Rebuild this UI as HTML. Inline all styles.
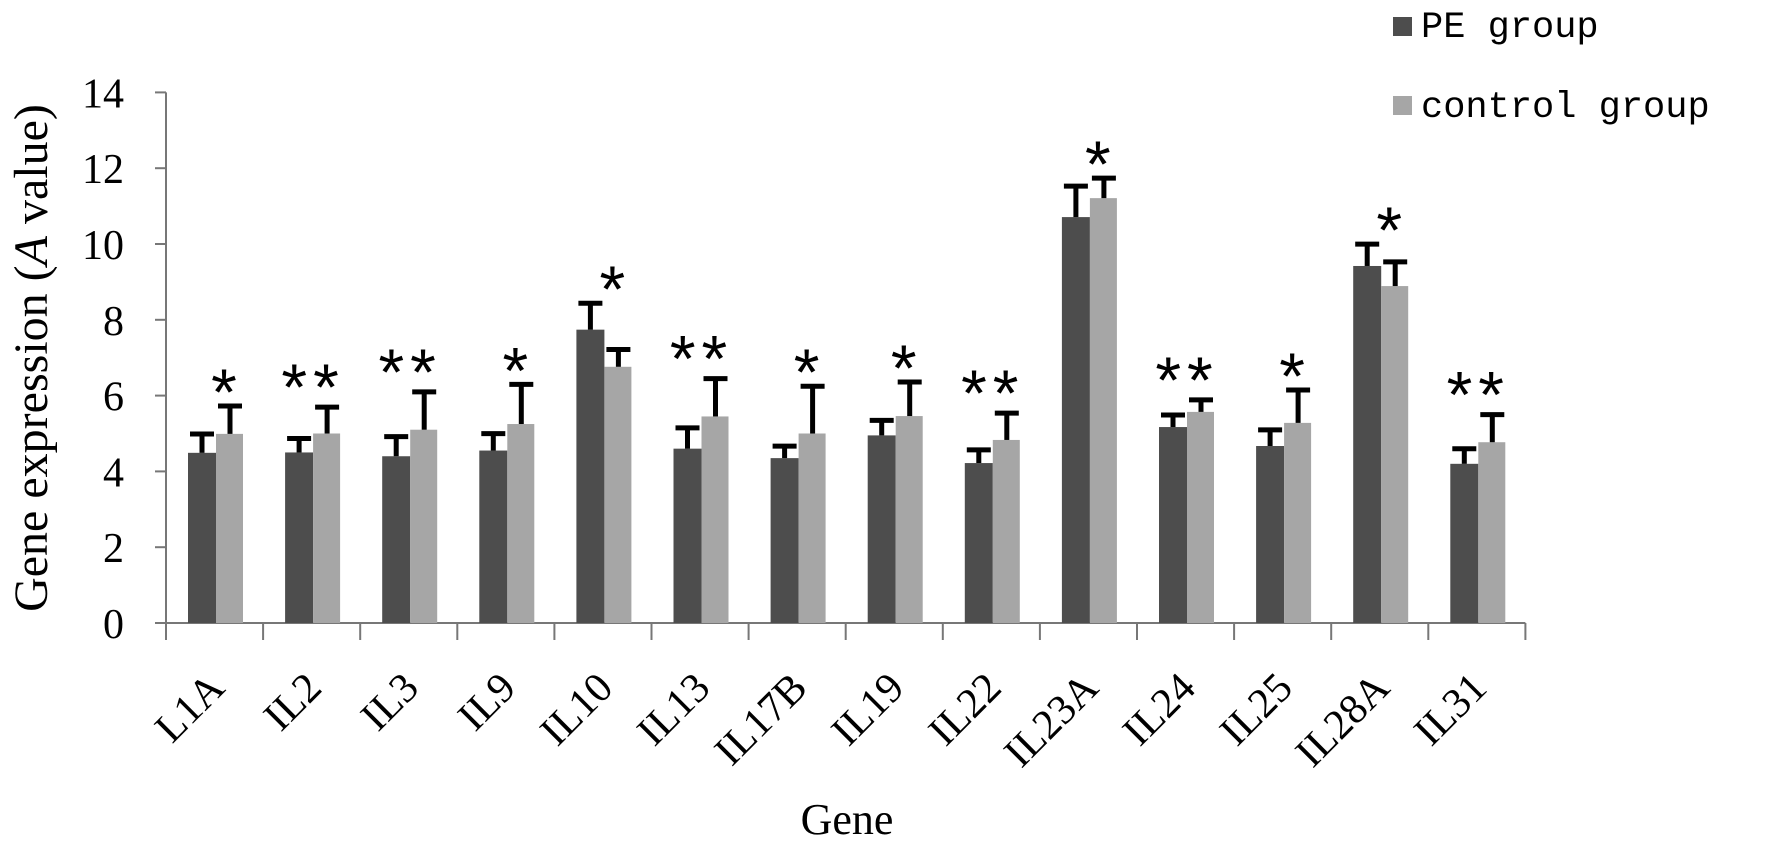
<!DOCTYPE html>
<html><head><meta charset="utf-8"><style>html,body{margin:0;padding:0;background:#fff}svg{display:block}</style></head>
<body>
<svg id="chart" width="1772" height="844" viewBox="0 0 1772 844" xmlns="http://www.w3.org/2000/svg">
<g id="axes"></g><g id="bars"></g><g id="labels"></g>
<text transform="translate(47,358) rotate(-90)" text-anchor="middle" font-family="Liberation Serif, serif" font-size="48">Gene expression (<tspan font-style="italic">A</tspan> value)</text>
<text x="847" y="834" text-anchor="middle" font-family="Liberation Serif, serif" font-size="44">Gene</text>
<g>
<rect x="1393" y="17" width="19" height="19" fill="#4d4d4d"/>
<text x="1421" y="37" font-family="Liberation Mono, monospace" font-size="37">PE group</text>
<rect x="1393" y="96" width="19" height="19" fill="#a6a6a6"/>
<text x="1421" y="117" font-family="Liberation Mono, monospace" font-size="37">control group</text>
</g>
</svg>
<script>
const categories = ["L1A","IL2","IL3","IL9","IL10","IL13","IL17B","IL19","IL22","IL23A","IL24","IL25","IL28A","IL31"];
const peValues = [4.49,4.5,4.4,4.55,7.74,4.6,4.35,4.95,4.22,10.71,5.17,4.67,9.42,4.2];
const peErrors = [0.55,0.42,0.57,0.5,0.75,0.6,0.37,0.45,0.4,0.87,0.37,0.48,0.63,0.45];
const ctrlValues = [4.99,5.0,5.1,5.25,6.76,5.45,5.0,5.46,4.83,11.21,5.57,5.28,8.89,4.77];
const ctrlErrors = [0.79,0.75,1.05,1.1,0.51,1.05,1.3,0.95,0.76,0.58,0.37,0.92,0.69,0.78];
const stars = ["*","**","**","*","*","**","*","*","**","*","**","*","*","**"];
const yTicks = [0,2,4,6,8,10,12,14];

const NS = "http://www.w3.org/2000/svg";
const X0 = 166, BAND = 97.1, Y0 = 623, PPU = 37.9, BW = 28;
const yScale = v => Y0 - v * PPU;
const xBand = i => X0 + i * BAND;
function mk(tag, attrs, parent, txt) {
  const e = document.createElementNS(NS, tag);
  for (const k in attrs) e.setAttribute(k, attrs[k]);
  if (txt !== undefined) e.textContent = txt;
  parent.appendChild(e);
  return e;
}
const axes = document.getElementById('axes');
const barsG = document.getElementById('bars');
const labelsG = document.getElementById('labels');
const xEnd = xBand(categories.length);

let l = mk('line', {x1:X0, y1:yScale(14), x2:X0, y2:Y0, stroke:'#777', 'stroke-width':2}, axes);


l = mk('line', {x1:X0, y1:Y0, x2:xEnd, y2:Y0, stroke:'#777', 'stroke-width':2}, axes);



yTicks.forEach(t => {
  const y = yScale(t);
  const tk = mk('line', {x1:X0-11, y1:y, x2:X0, y2:y, stroke:'#777', 'stroke-width':2}, axes);
  
  
  const tl = mk('text', {x:124, y:y+15, 'text-anchor':'end', 'font-family':'Liberation Serif, serif', 'font-size':42}, labelsG, String(t));
  
  
});
for (let i = 0; i <= categories.length; i++) {
  const x = xBand(i);
  const tk = mk('line', {x1:x, y1:Y0, x2:x, y2:Y0+17, stroke:'#777', 'stroke-width':2}, axes);
  
  
}

function errBar(cx, v, e, name) {
  const yt = yScale(v + e), yb = yScale(v);
  const s = mk('line', {x1:cx, y1:yb, x2:cx, y2:yt, stroke:'#000', 'stroke-width':5}, barsG);
  
  
  const c = mk('line', {x1:cx-12, y1:yt+2, x2:cx+12, y2:yt+2, stroke:'#000', 'stroke-width':5}, barsG);
  
  
}

categories.forEach((cat, i) => {
  const bx = xBand(i) + 22;
  const b1 = mk('rect', {x:bx, y:yScale(peValues[i]), width:BW, height:peValues[i]*PPU, fill:'#4d4d4d'}, barsG);
  
  
  const b2 = mk('rect', {x:bx+BW, y:yScale(ctrlValues[i]), width:BW-1, height:ctrlValues[i]*PPU, fill:'#a6a6a6'}, barsG);
  
  
  errBar(bx + BW/2, peValues[i], peErrors[i], 'pe-' + cat.toLowerCase());
  errBar(bx + BW*1.5, ctrlValues[i], ctrlErrors[i], 'control-' + cat.toLowerCase());
  const top = Math.min(yScale(peValues[i]+peErrors[i]), yScale(ctrlValues[i]+ctrlErrors[i]));
  const single = stars[i].length === 1;
  const sx = bx + BW + (single ? 8 : 0);
  const cy = top - (single ? 30 : 36);
  const st = mk('text', {x:sx, y:cy+41, 'text-anchor':'middle', 'font-family':'Liberation Sans, sans-serif', 'font-size':66, 'letter-spacing': single ? 0 : 6}, labelsG, stars[i]);
  
  
  const cx = xBand(i) + BAND/2 + 12;
  const xl = mk('text', {x:cx, y:690, 'text-anchor':'end', transform:'rotate(-45 ' + cx + ' 690)', 'font-family':'Liberation Serif, serif', 'font-size':42}, labelsG, cat);
  
  
});
</script>
</body></html>
